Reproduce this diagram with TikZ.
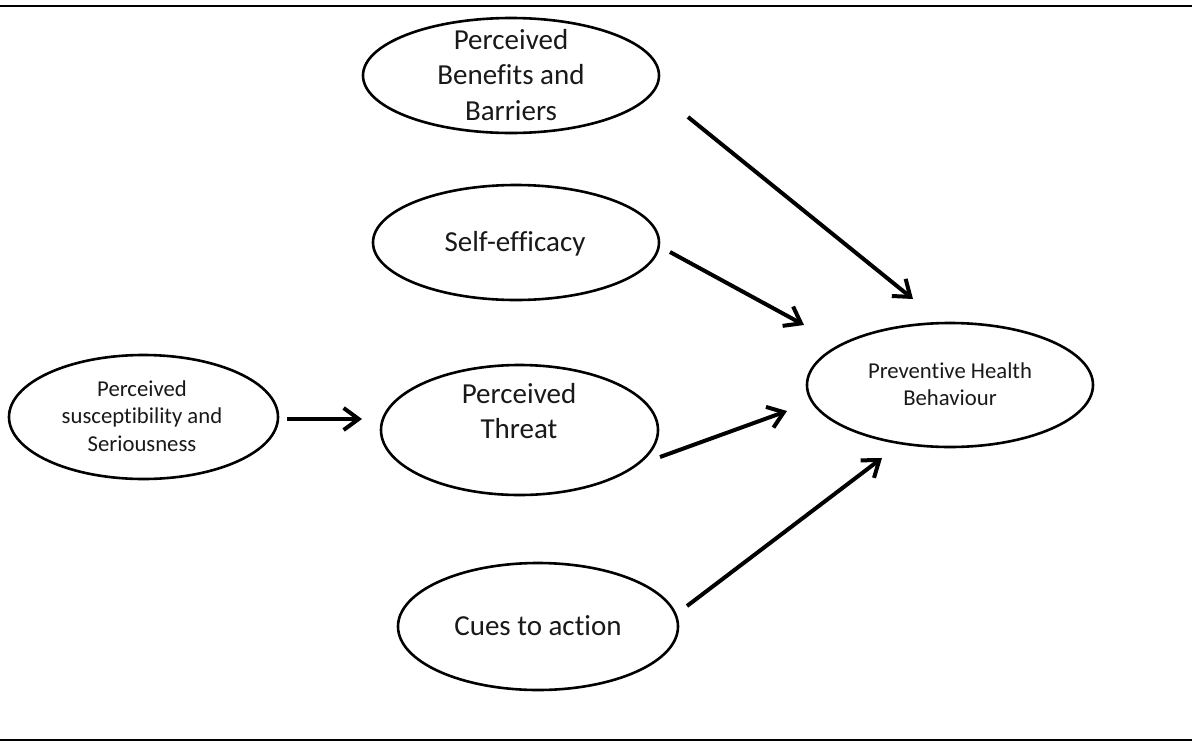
\documentclass[tikz,border=0pt]{standalone}
\usepackage{fontspec}
\setmainfont{Carlito}[Ligatures={NoCommon,NoRequired,NoContextual}]
\usetikzlibrary{shapes.geometric,arrows.meta}
\tikzset{
  oval/.style={ellipse, draw, line width=2.6pt, inner sep=0pt},
  bigtxt/.style={align=center, inner sep=0pt, font=\fontsize{29}{35.5}\selectfont, text=black!90},
  smalltxt/.style={align=center, inner sep=0pt, font=\fontsize{22.7}{27.5}\selectfont, text=black!90},
  arr/.style={line width=4pt, -{Straight Barb[length=15pt,width=22pt]}},
  rule/.style={line width=2.5pt}
}
\begin{document}
\begin{tikzpicture}[x=1pt,y=-1pt]
\useasboundingbox (0,0) rectangle (1192,742);
\fill[white] (0,0) rectangle (1192,742);
\coordinate (ruleTL) at (0,6);
\coordinate (ruleTR) at (1192,6);
\coordinate (ruleBL) at (0,740);
\coordinate (ruleBR) at (1192,740);
\draw[rule] (ruleTL) -- (ruleTR);
\draw[rule] (ruleBL) -- (ruleBR);
% ellipses
\node[oval, minimum width=296pt, minimum height=115pt] (benefits) at (511,75.5) {};
\node[oval, minimum width=286pt, minimum height=115pt] (selfeff) at (516,242.5) {};
\node[oval, minimum width=277pt, minimum height=130pt] (threat) at (519.5,430) {};
\node[oval, minimum width=269pt, minimum height=124pt] (suscept) at (143.5,417) {};
\node[oval, minimum width=280pt, minimum height=127pt] (cues) at (538,626.5) {};
\node[oval, minimum width=286pt, minimum height=124pt] (phb) at (950,385) {};
% texts
\node[bigtxt] (benefitsT) at (511,75) {Perceived\\Benefits and\\Barriers};
\node[bigtxt] (selfeffT) at (515,244) {Self-efficacy};
\node[bigtxt] (threatT) at (519,411) {Perceived\\Threat};
\node[bigtxt] (cuesT) at (538,626) {Cues to action};
\node[smalltxt] (susceptT) at (142,416) {Perceived\\susceptibility and\\Seriousness};
\node[smalltxt] (phbT) at (950,384) {Preventive Health\\Behaviour};
% arrow end points
\coordinate (a1s) at (688,117);
\coordinate (a1e) at (913,299);
\coordinate (a2s) at (670,252);
\coordinate (a2e) at (804,325);
\coordinate (a3s) at (287,419);
\coordinate (a3e) at (362,419);
\coordinate (a4s) at (660,457);
\coordinate (a4e) at (787,411);
\coordinate (a5s) at (687,606);
\coordinate (a5e) at (882,458);
\draw[arr] (a1s) -- (a1e);
\draw[arr] (a2s) -- (a2e);
\draw[arr] (a3s) -- (a3e);
\draw[arr] (a4s) -- (a4e);
\draw[arr] (a5s) -- (a5e);
\end{tikzpicture}
\end{document}
